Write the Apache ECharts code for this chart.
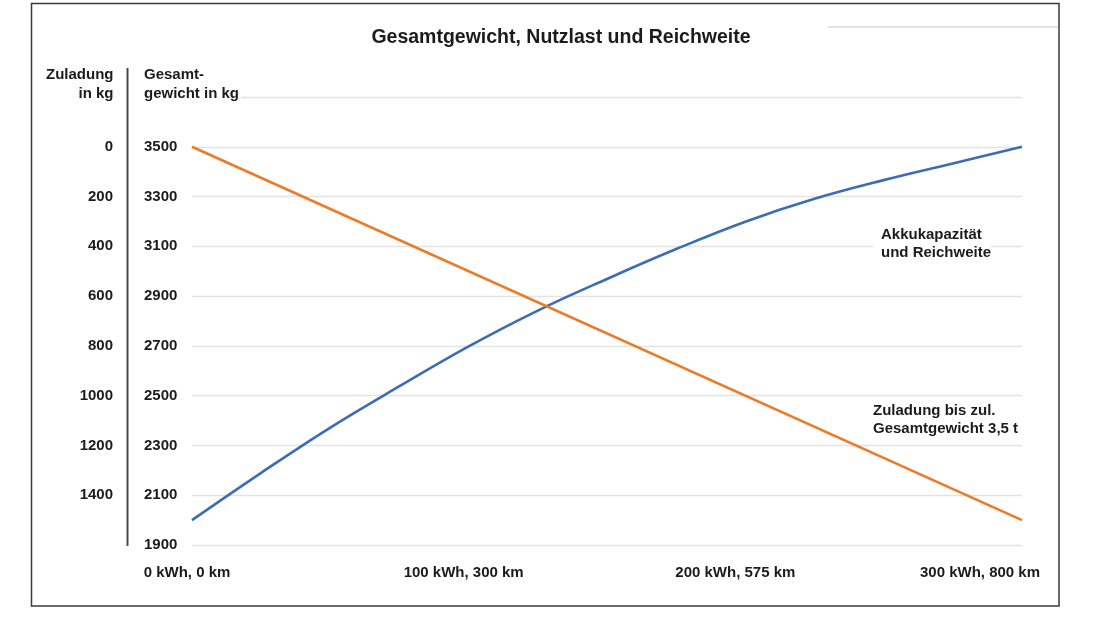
<!DOCTYPE html>
<html>
<head>
<meta charset="utf-8">
<script src="https://cdn.jsdelivr.net/npm/echarts@6/dist/echarts.min.js"></script>
<style>html,body{margin:0;padding:0;background:#fff}#c{width:1100px;height:619px}</style>
</head>
<body>
<div id="c"></div>
<script>
// Data
const titleText = 'Gesamtgewicht, Nutzlast und Reichweite';
const xTickValues = [0, 100, 200, 300];
const xTickLabels = ['0 kWh, 0 km', '100 kWh, 300 km', '200 kWh, 575 km', '300 kWh, 800 km'];
const akkuKwh = [0, 25, 50, 75, 100, 125, 150, 175, 200, 225, 250, 275, 300];
const akkuGewicht = [2000, 2190, 2372, 2538, 2698, 2842, 2969, 3089, 3199, 3291, 3366, 3433, 3500];
const zuladungKwh = [0, 300];
const zuladungGewicht = [3500, 2000];
const yMin = 1900, yMax = 3700, yStep = 200;
const zulMaxGewicht = 3500;

const FONT = '"Liberation Sans", Arial, sans-serif';
const TXT = '#1b1b1b';
const BLUE = '#3a6db5';
const ORANGE = '#ec7a26';

const chart = echarts.init(document.getElementById('c'));
const labelShift = [10, 10, 20, 84];
const rich = {};
labelShift.forEach((p, i) => {
  rich['s' + i] = { fontFamily: FONT, fontSize: 15, fontWeight: 'bold', color: TXT, padding: [0, p, 0, 0] };
});

chart.setOption({
  animation: false,
  title: {
    text: titleText, left: 556, top: 23, textAlign: 'center',
    textStyle: { fontFamily: FONT, fontSize: 19.5, fontWeight: 'bold', color: TXT }
  },
  grid: { left: 192, right: 78, top: 97, bottom: 74 },
  xAxis: {
    type: 'value', min: 0, max: 300, interval: 100,
    axisLine: { show: false }, axisTick: { show: false }, splitLine: { show: false },
    axisLabel: {
      margin: 20,
      formatter: (v) => { const i = xTickValues.indexOf(v); return i < 0 ? '' : '{s' + i + '|' + xTickLabels[i] + '}'; },
      rich: rich
    }
  },
  yAxis: [
    {
      type: 'value', min: yMin, max: yMax, interval: yStep, position: 'left',
      axisLine: { show: false }, axisTick: { show: false },
      splitLine: { show: true, lineStyle: { color: '#e3e3e3', width: 1.3 } },
      axisLabel: {
        margin: 48, align: 'left', fontFamily: FONT, fontSize: 15, fontWeight: 'bold', color: TXT,
        formatter: (v) => v > zulMaxGewicht ? '' : String(v)
      }
    },
    {
      type: 'value', min: yMin, max: yMax, interval: yStep, position: 'left',
      axisLine: { show: false }, axisTick: { show: false }, splitLine: { show: false },
      axisLabel: {
        margin: 79, align: 'right', fontFamily: FONT, fontSize: 15, fontWeight: 'bold', color: TXT,
        formatter: (v) => (v > zulMaxGewicht || v < 2100) ? '' : String(zulMaxGewicht - v)
      }
    }
  ],
  series: [
    {
      type: 'line', name: 'Akkukapazität und Reichweite', smooth: 0.4, symbol: 'none',
      lineStyle: { color: BLUE, width: 2.6 },
      data: akkuKwh.map((k, i) => [k, akkuGewicht[i]])
    },
    {
      type: 'line', name: 'Zuladung', symbol: 'none',
      lineStyle: { color: ORANGE, width: 2.6 },
      data: zuladungKwh.map((k, i) => [k, zuladungGewicht[i]])
    }
  ],
  graphic: [
    { type: 'rect', z: 50, shape: { x: 31.5, y: 3.5, width: 1027.5, height: 602.5 },
      style: { fill: 'none', stroke: '#3a3a3a', lineWidth: 1.5 } },
    { type: 'line', z: 50, shape: { x1: 828, y1: 27, x2: 1058, y2: 27 },
      style: { stroke: '#d9d9d9', lineWidth: 1.5 } },
    { type: 'line', z: 50, shape: { x1: 127.5, y1: 68, x2: 127.5, y2: 546 },
      style: { stroke: '#4a4a4a', lineWidth: 2 } },
    { type: 'text', z: 60, style: { text: 'Zuladung\nin kg', x: 113.5, y: 65, align: 'right', verticalAlign: 'top',
      font: 'bold 15px ' + FONT, lineHeight: 19, fill: TXT } },
    { type: 'text', z: 60, style: { text: 'Gesamt-\ngewicht in kg', x: 144, y: 65, align: 'left', verticalAlign: 'top',
      font: 'bold 15px ' + FONT, lineHeight: 19, fill: TXT, backgroundColor: '#fff', padding: [0, 2, 0, 0] } },
    { type: 'text', z: 60, style: { text: 'Akkukapazität\nund Reichweite', x: 873, y: 226, align: 'left', verticalAlign: 'top',
      font: 'bold 15px ' + FONT, lineHeight: 18, fill: TXT, backgroundColor: '#fff', padding: [0, 0, 0, 8] } },
    { type: 'text', z: 60, style: { text: 'Zuladung bis zul.\nGesamtgewicht 3,5 t', x: 873, y: 402, align: 'left', verticalAlign: 'top',
      font: 'bold 15px ' + FONT, lineHeight: 18, fill: TXT } }
  ]
});
</script>
</body>
</html>
